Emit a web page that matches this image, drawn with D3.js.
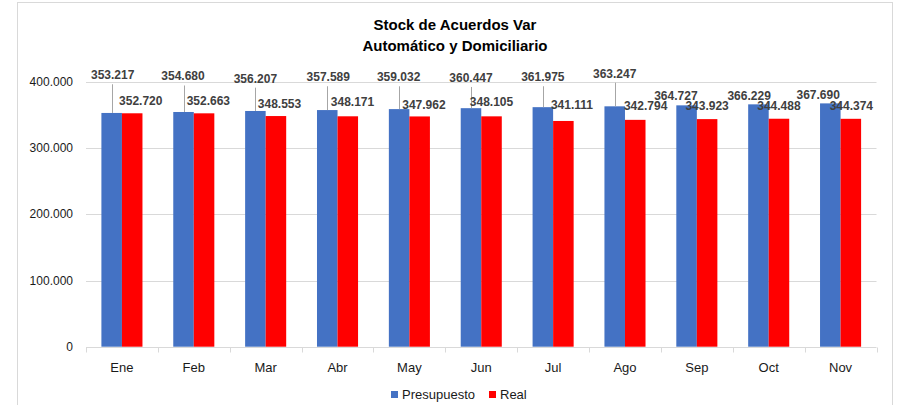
<!DOCTYPE html>
<html>
<head>
<meta charset="utf-8">
<script src="https://cdn.jsdelivr.net/npm/d3@7/dist/d3.min.js"></script>
<style>
  body { margin: 0; background: #fff; }
  svg { display: block; font-family: "Liberation Sans", Arial, sans-serif; }
  .grid line { stroke: #d9d9d9; stroke-width: 1; }
  .tick-label { font-size: 12px; fill: #1a1a1a; }
  .cat-label { font-size: 13px; fill: #1a1a1a; }
  .data-label { font-size: 12px; font-weight: bold; fill: #404040; }
  .leader { stroke: #a6a6a6; stroke-width: 1; }
</style>
</head>
<body>
<div class="chart"></div>
<script>
/* global d3:false */
'use strict';

// chart values
var months = ['Ene', 'Feb', 'Mar', 'Abr', 'May', 'Jun', 'Jul', 'Ago', 'Sep', 'Oct', 'Nov'];
var seriesNames = ['Presupuesto', 'Real'];
var presupuesto = [353217, 354680, 356207, 357589, 359032, 360447, 361975, 363247, 364727, 366229, 367690];
var real = [352720, 352663, 348553, 348171, 347962, 348105, 341111, 342794, 343923, 344488, 344374];
var yTicks = [0, 100000, 200000, 300000, 400000];
var titleLines = ['Stock de Acuerdos Var', 'Automático y Domiciliario'];

// label nudges as placed by hand in the original (pixels, relative to bar top / bar centre)
var presNudgeX = [1, -0.5, 0, 1, -0.5, 0, 0, 0, -10.7, -9.3, -12.1];
var presNudgeY = [-33.7, -31.5, -28.3, -28.8, -27.8, -26.2, -25.9, -28.6, -5.3, -4.7, -4.7];
var realNudgeX = [8.6, 4.3, 3.6, 4.7, 4.3, 0, 8.6, 10.4, 0, 0, 0.5];
var realNudgeY = [-8, -8, -8.5, -10, -7.7, -10, -11.7, -9.6, -9.4, -9, -9.1];

var width = 899,
    height = 405,
    plot = { left: 86, right: 876.5, top: 82, bottom: 346.7 },
    colors = ['#4472C4', '#FF0000'],
    locale = d3.formatLocale({ decimal: ',', thousands: '.', grouping: [3], currency: ['', ''] }),
    fmt = locale.format(',d');

var svg = d3.select('.chart').append('svg').attr('width', width).attr('height', height);

var x = d3.scaleBand().domain(months).range([plot.left, plot.right]).paddingInner(0).paddingOuter(0),
    xs = d3.scaleBand().domain(seriesNames).range([0, x.bandwidth()]).paddingInner(0).paddingOuter(0.75),
    y = d3.scaleLinear().domain([0, 400000]).range([plot.bottom, plot.top]);

function drawFrame() {
  svg.append('rect')
    .attr('x', 17.5).attr('y', 2.5)
    .attr('width', 875).attr('height', 420)
    .attr('fill', 'none').attr('stroke', '#d9d9d9').attr('stroke-width', 1);
}

function drawTitle() {
  svg.append('text')
    .attr('x', 455).attr('y', 30)
    .attr('text-anchor', 'middle')
    .style('font-size', '15px').style('font-weight', 'bold').style('fill', '#000')
    .selectAll('tspan').data(titleLines).enter().append('tspan')
    .attr('x', 455).attr('dy', function (d, i) { return i ? 21 : 0; })
    .text(function (d) { return d; });
}

function drawAxes() {
  var grid = svg.append('g').attr('class', 'grid');
  grid.selectAll('line.h').data(yTicks).enter().append('line')
    .attr('class', 'h')
    .attr('x1', plot.left).attr('x2', plot.right)
    .attr('y1', function (d) { return Math.round(y(d)) + 0.5; })
    .attr('y2', function (d) { return Math.round(y(d)) + 0.5; });

  // category ticks below the axis line
  var edges = months.map(function (m) { return x(m); }).concat([plot.right]);
  grid.selectAll('line.v').data(edges).enter().append('line')
    .attr('class', 'v')
    .attr('x1', function (d) { return Math.round(d) + 0.5; })
    .attr('x2', function (d) { return Math.round(d) + 0.5; })
    .attr('y1', Math.round(y(0)) + 0.5).attr('y2', Math.round(y(0)) + 5.5);

  svg.append('g').selectAll('text').data(yTicks).enter().append('text')
    .attr('class', 'tick-label')
    .attr('x', 73).attr('y', function (d) { return y(d) + 4; })
    .attr('text-anchor', 'end')
    .text(function (d) { return fmt(d); });

  svg.append('g').selectAll('text').data(months).enter().append('text')
    .attr('class', 'cat-label')
    .attr('x', function (d) { return x(d) + x.bandwidth() / 2; })
    .attr('y', 371.5)
    .attr('text-anchor', 'middle')
    .text(function (d) { return d; });
}

function drawBars() {
  var series = [presupuesto, real];
  series.forEach(function (values, s) {
    svg.append('g').selectAll('rect').data(values).enter().append('rect')
      .attr('x', function (d, i) { return x(months[i]) + xs(seriesNames[s]); })
      .attr('y', function (d) { return y(d); })
      .attr('width', xs.bandwidth())
      .attr('height', function (d) { return y(0) - y(d); })
      .attr('fill', colors[s]);
  });
}

function drawLabels() {
  var presCenter = function (i) { return x(months[i]) + xs('Presupuesto') + xs.bandwidth() / 2; },
      realCenter = function (i) { return x(months[i]) + xs('Real') + xs.bandwidth() / 2; };

  // leader lines for labels that were dragged away from their bar
  svg.append('g').selectAll('line').data(presupuesto).enter()
    .filter(function (d, i) { return presNudgeY[i] < -15; })
    .append('line')
    .attr('class', 'leader')
    .attr('x1', function (d) { return Math.round(presCenter(presupuesto.indexOf(d))) + 0.5; })
    .attr('x2', function (d) { return Math.round(presCenter(presupuesto.indexOf(d))) + 0.5; })
    .attr('y1', function (d) { var i = presupuesto.indexOf(d); return y(d) + presNudgeY[i] + 5; })
    .attr('y2', function (d) { return y(d); });

  svg.append('g').selectAll('text').data(presupuesto).enter().append('text')
    .attr('class', 'data-label')
    .attr('x', function (d, i) { return presCenter(i) + presNudgeX[i]; })
    .attr('y', function (d, i) { return y(d) + presNudgeY[i]; })
    .attr('text-anchor', 'middle')
    .text(function (d) { return fmt(d); });

  svg.append('g').selectAll('text').data(real).enter().append('text')
    .attr('class', 'data-label')
    .attr('x', function (d, i) { return realCenter(i) + realNudgeX[i]; })
    .attr('y', function (d, i) { return y(d) + realNudgeY[i]; })
    .attr('text-anchor', 'middle')
    .text(function (d) { return fmt(d); });
}

function drawLegend() {
  var items = [
    { name: seriesNames[0], color: colors[0], x: 391 },
    { name: seriesNames[1], color: colors[1], x: 489 }
  ];
  var g = svg.append('g').selectAll('g').data(items).enter().append('g');
  g.append('rect')
    .attr('x', function (d) { return d.x; }).attr('y', 391)
    .attr('width', 7).attr('height', 7)
    .attr('fill', function (d) { return d.color; });
  g.append('text')
    .attr('x', function (d) { return d.x + 11; }).attr('y', 398.5)
    .style('font-size', '13px').style('fill', '#1a1a1a')
    .text(function (d) { return d.name; });
}

drawFrame();
drawTitle();
drawAxes();
drawBars();
drawLabels();
drawLegend();
</script>
</body>
</html>
